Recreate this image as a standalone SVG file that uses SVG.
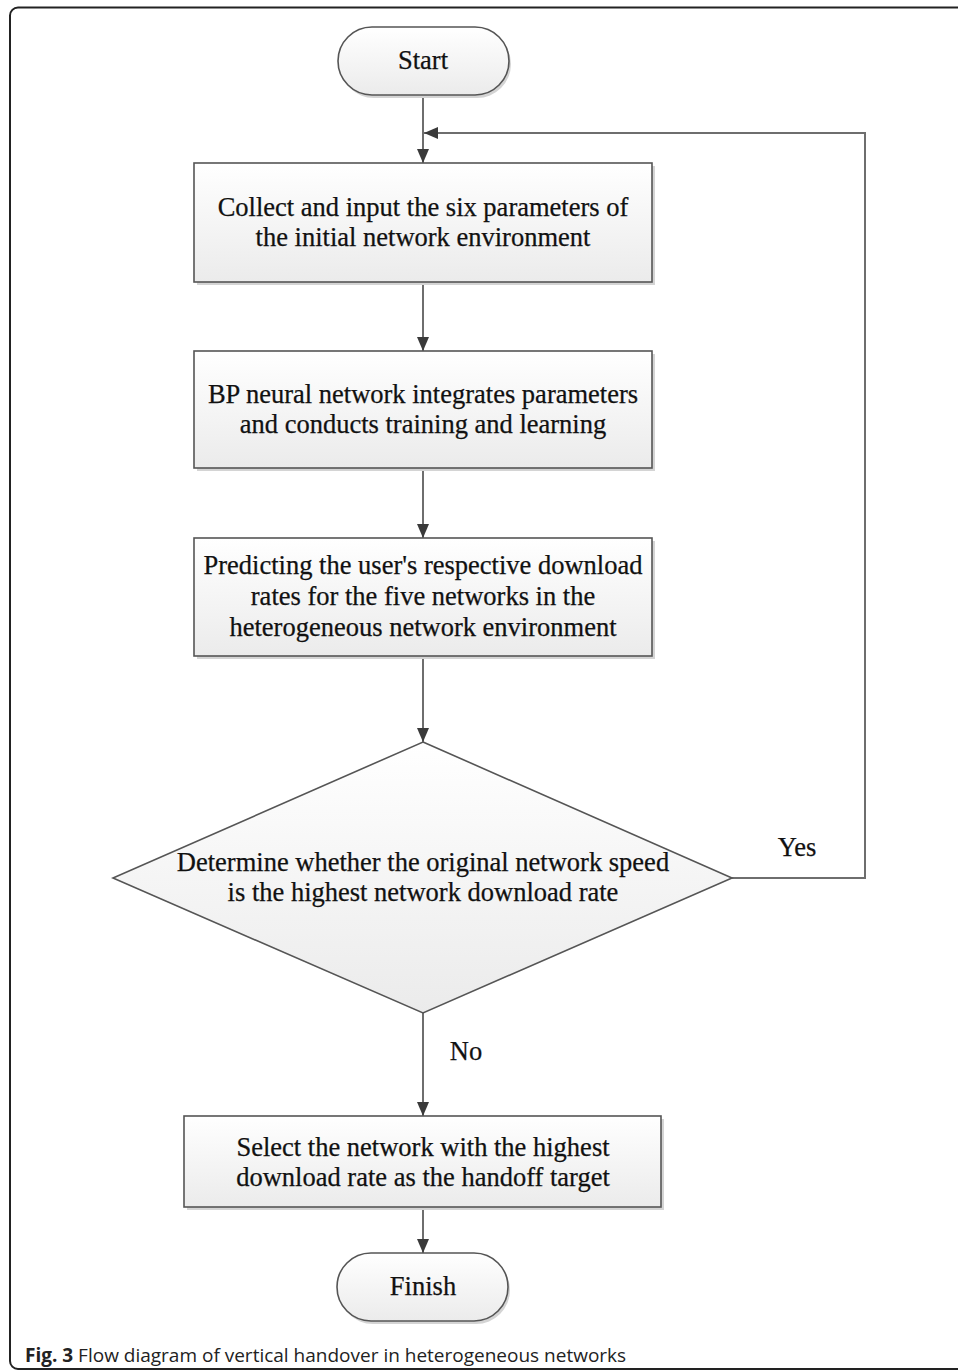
<svg xmlns="http://www.w3.org/2000/svg" width="958" height="1370" viewBox="0 0 958 1370">
<style>
.node{fill:url(#g);stroke:#555;stroke-width:1.6}
.sh{fill:#d4d4d4;stroke:none}
.t{font-family:"Liberation Serif","Times New Roman",serif;font-size:26.5px;fill:#111;stroke:#111;stroke-width:0.25;text-anchor:middle}
.c{stroke:#6e6e6e;stroke-width:2;fill:none}
.cap{font-family:"Open Sans","Noto Sans",sans-serif;font-size:19px;fill:#222}
</style>
<defs>
<linearGradient id="g" x1="0" y1="0" x2="0" y2="1">
<stop offset="0" stop-color="#ffffff"/>
<stop offset="1" stop-color="#ebebeb"/>
</linearGradient>
<marker id="a" viewBox="0 0 14 12" refX="14" refY="6" markerWidth="14" markerHeight="13" markerUnits="userSpaceOnUse" orient="auto">
<path d="M0,0 L14,6 L0,12 Z" fill="#3a3a3a"/>
</marker>
</defs>
<rect width="958" height="1370" fill="#fff"/>
<path d="M960,7.5 H18 A8,8 0 0 0 10,15.5 V1361 A8,8 0 0 0 18,1369 H960" fill="none" stroke="#222" stroke-width="2"/>

<g id="connectors">
<line class="c" x1="423" y1="95" x2="423" y2="163" marker-end="url(#a)"/>
<line class="c" x1="423" y1="282" x2="423" y2="351" marker-end="url(#a)"/>
<line class="c" x1="423" y1="468" x2="423" y2="538" marker-end="url(#a)"/>
<line class="c" x1="423" y1="656" x2="423" y2="742" marker-end="url(#a)"/>
<line class="c" x1="423" y1="1013" x2="423" y2="1116" marker-end="url(#a)"/>
<line class="c" x1="423" y1="1207" x2="423" y2="1253" marker-end="url(#a)"/>
<polyline class="c" points="732,878 865,878 865,133 424,133" marker-end="url(#a)"/>
<text class="t" x="797" y="856">Yes</text>
<text class="t" x="466" y="1060">No</text>
</g>

<g id="start">
<rect class="sh" x="340" y="30" width="171" height="68" rx="34"/>
<rect class="node" x="338" y="27" width="171" height="68" rx="34"/>
<text class="t" x="423" y="69">Start</text>
</g>

<g id="collect">
<rect class="sh" x="197" y="166" width="458" height="119"/>
<rect class="node" x="194" y="163" width="458" height="119"/>
<text class="t" x="423" y="216">Collect and input the six parameters of</text>
<text class="t" x="423" y="246">the initial network environment</text>
</g>

<g id="bp">
<rect class="sh" x="197" y="354" width="458" height="117"/>
<rect class="node" x="194" y="351" width="458" height="117"/>
<text class="t" x="423" y="403">BP neural network integrates parameters</text>
<text class="t" x="423" y="433">and conducts training and learning</text>
</g>

<g id="predict">
<rect class="sh" x="197" y="541" width="458" height="118"/>
<rect class="node" x="194" y="538" width="458" height="118"/>
<text class="t" x="423" y="574">Predicting the user's respective download</text>
<text class="t" x="423" y="605">rates for the five networks in the</text>
<text class="t" x="423" y="636">heterogeneous network environment</text>
</g>

<g id="decision">
<polygon class="node" points="423,742 732,878 423,1013 113,878"/>
<text class="t" x="423" y="871">Determine whether the original network speed</text>
<text class="t" x="423" y="901">is the highest network download rate</text>
</g>

<g id="select">
<rect class="sh" x="187" y="1119" width="477" height="91"/>
<rect class="node" x="184" y="1116" width="477" height="91"/>
<text class="t" x="423" y="1156">Select the network with the highest</text>
<text class="t" x="423" y="1186">download rate as the handoff target</text>
</g>

<g id="finish">
<rect class="sh" x="339" y="1256" width="171" height="68" rx="34"/>
<rect class="node" x="337" y="1253" width="171" height="68" rx="34"/>
<text class="t" x="423" y="1295">Finish</text>
</g>

<text class="cap" x="25" y="1362"><tspan font-weight="bold">Fig. 3</tspan> Flow diagram of vertical handover in heterogeneous networks</text>
</svg>
